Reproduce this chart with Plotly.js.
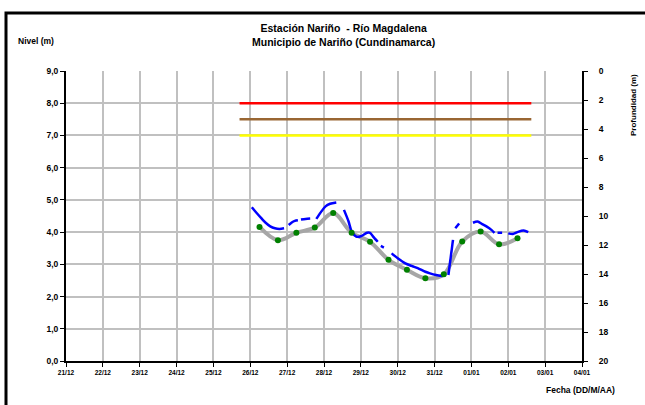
<!DOCTYPE html>
<html>
<head>
<meta charset="utf-8">
<script src="https://cdn.plot.ly/plotly-3.0.1.min.js"></script>
<style>html,body{margin:0;padding:0;background:#fff;}#chart{width:645px;height:405px;}</style>
</head>
<body>
<div id="chart"></div>
<script>
// ---- data ----
const tickDates = ['2011-12-21','2011-12-22','2011-12-23','2011-12-24','2011-12-25','2011-12-26','2011-12-27','2011-12-28','2011-12-29','2011-12-30','2011-12-31','2012-01-01','2012-01-02','2012-01-03','2012-01-04'];
const tickLabels = ['21/12','22/12','23/12','24/12','25/12','26/12','27/12','28/12','29/12','30/12','31/12','01/01','02/01','03/01','04/01'];

// manual readings (green points, gray smoothed line)
const readTimes = ['2011-12-26 06:00','2011-12-26 18:00','2011-12-27 06:00','2011-12-27 18:00','2011-12-28 06:00','2011-12-28 18:00','2011-12-29 06:00','2011-12-29 18:00','2011-12-30 06:00','2011-12-30 18:00','2011-12-31 06:00','2011-12-31 18:00','2012-01-01 06:00','2012-01-01 18:00','2012-01-02 06:00'];
const readLevels = [4.16, 3.75, 3.98, 4.14, 4.59, 3.98, 3.70, 3.14, 2.83, 2.57, 2.69, 3.71, 4.02, 3.62, 3.81];

// automatic sensor (blue, with gaps)
const sensorTimes = [
 '2011-12-26 01:00','2011-12-26 04:00','2011-12-26 07:00','2011-12-26 10:00','2011-12-26 13:00','2011-12-26 16:00','2011-12-26 19:00','2011-12-26 22:00',
 '2011-12-26 23:00',
 '2011-12-27 01:00','2011-12-27 03:00','2011-12-27 05:00','2011-12-27 07:00',
 '2011-12-27 08:00',
 '2011-12-27 09:00','2011-12-27 12:00','2011-12-27 15:00',
 '2011-12-27 17:00',
 '2011-12-27 19:00','2011-12-27 22:00','2011-12-28 01:00','2011-12-28 04:00','2011-12-28 08:00',
 '2011-12-28 10:00',
 '2011-12-28 13:00','2011-12-28 16:00','2011-12-28 18:00','2011-12-28 21:00','2011-12-29 00:00','2011-12-29 04:00','2011-12-29 06:00','2011-12-29 08:00','2011-12-29 11:00',
 '2011-12-29 12:00',
 '2011-12-29 13:00','2011-12-29 15:00',
 '2011-12-29 17:00',
 '2011-12-29 20:00','2011-12-30 00:00','2011-12-30 05:00','2011-12-30 09:00','2011-12-30 13:00','2011-12-30 18:00','2011-12-30 21:00','2011-12-31 01:00','2011-12-31 05:00','2011-12-31 07:00',
 '2011-12-31 08:00',
 '2011-12-31 09:00','2011-12-31 12:00',
 '2011-12-31 13:00',
 '2011-12-31 13:30','2011-12-31 16:00',
 '2011-12-31 18:00',
 '2012-01-01 01:00','2012-01-01 04:00','2012-01-01 07:00','2012-01-01 10:00','2012-01-01 13:00','2012-01-01 15:00',
 '2012-01-01 16:00',
 '2012-01-01 17:00','2012-01-01 20:00',
 '2012-01-01 22:00',
 '2012-01-02 00:00','2012-01-02 03:00','2012-01-02 06:00','2012-01-02 10:00','2012-01-02 13:00'
];
const sensorLevels = [
 4.77,4.60,4.44,4.29,4.18,4.12,4.10,4.12,
 null,
 4.22,4.30,4.35,4.37,
 null,
 4.39,4.41,4.42,
 null,
 4.41,4.62,4.80,4.88,4.92,
 null,
 4.69,4.33,4.02,3.86,3.87,3.98,3.98,3.86,3.70,
 null,
 3.57,3.52,
 null,
 3.34,3.19,3.03,2.95,2.88,2.77,2.72,2.67,2.64,2.66,
 null,
 2.67,3.76,
 null,
 4.12,4.27,
 null,
 4.29,4.33,4.25,4.17,4.07,3.98,
 null,
 3.98,3.98,
 null,
 3.96,3.94,4.00,4.05,4.00
];

// alert thresholds
const alertStart = '2011-12-25 17:00';
const alertEnd = '2012-01-02 15:00';
const redLevel = 8.0, orangeLevel = 7.5, yellowLevel = 7.0;

// ---- chart ----
const F = 'Liberation Sans, Arial, sans-serif';
const traces = [
  {x:[alertStart, alertEnd], y:[redLevel, redLevel], mode:'lines', line:{color:'#ff0000', width:2.5}, hoverinfo:'skip'},
  {x:[alertStart, alertEnd], y:[orangeLevel, orangeLevel], mode:'lines', line:{color:'#996633', width:2.5}, hoverinfo:'skip'},
  {x:[alertStart, alertEnd], y:[yellowLevel, yellowLevel], mode:'lines', line:{color:'#ffff00', width:2.5}, hoverinfo:'skip'},
  {x:readTimes, y:readLevels, mode:'lines', line:{color:'#a6a6a6', width:4, shape:'spline', smoothing:1}, hoverinfo:'skip'},
  {x:sensorTimes, y:sensorLevels, mode:'lines', connectgaps:false, line:{color:'#0000ff', width:2.5, shape:'spline', smoothing:0.8}, hoverinfo:'skip'},
  {x:readTimes, y:readLevels, mode:'markers', marker:{color:'#008000', size:6}, hoverinfo:'skip'},
  {x:[tickDates[0]], y:[null], yaxis:'y2', mode:'lines', hoverinfo:'skip'}
];

const W = 516, H = 290, L = 66, T = 71;
function px(xp){return (xp - L)/W;}
function py(yp){return 1 - (yp - T)/H;}

const layout = {
  width:645, height:405,
  margin:{l:66, r:63, t:71, b:44, pad:0},
  paper_bgcolor:'#ffffff', plot_bgcolor:'#ffffff',
  showlegend:false,
  separators:',.',
  font:{family:F, color:'#000'},
  xaxis:{
    type:'date', range:[tickDates[0], tickDates[tickDates.length-1]],
    tickmode:'array', tickvals:tickDates, ticktext:tickLabels,
    tickfont:{family:F, size:6.5, weight:'bold'},
    showgrid:true, gridcolor:'#c0c0c0', gridwidth:2,
    showline:true, linecolor:'#000', linewidth:2,
    ticks:'outside', ticklen:4, tickcolor:'#000', tickwidth:1,
    zeroline:false, fixedrange:true
  },
  yaxis:{
    range:[0,9], dtick:1, tick0:0, tickformat:'.1f',
    tickfont:{family:F, size:8.5, weight:'bold'},
    showgrid:true, gridcolor:'#c0c0c0', gridwidth:2,
    showline:true, linecolor:'#000', linewidth:2,
    ticks:'outside', ticklen:4, tickcolor:'#000', tickwidth:1,
    zeroline:false, fixedrange:true
  },
  yaxis2:{
    overlaying:'y', side:'right', range:[20,0], dtick:2, tick0:0,
    tickfont:{family:F, size:8.5, weight:'bold'},
    showgrid:false, showline:true, linecolor:'#000', linewidth:2,
    ticks:'outside', ticklen:4, tickcolor:'#000', tickwidth:1,
    ticklabelstandoff:9,
    zeroline:false, fixedrange:true
  },
  shapes:[
    {type:'rect', xref:'paper', yref:'paper', x0:px(6), x1:1.6, y0:-0.6, y1:py(13), line:{color:'#000', width:3}, fillcolor:'rgba(0,0,0,0)'}
  ],
  annotations:[
    {xref:'paper', yref:'paper', x:px(343), y:py(34.5), xanchor:'center', yanchor:'middle', showarrow:false,
     text:'Estación Nariño  - Río Magdalena<br>Municipio de Nariño (Cundinamarca)', align:'center',
     font:{family:F, size:10.5, weight:'bold'}},
    {xref:'paper', yref:'paper', x:px(36), y:py(41), xanchor:'center', yanchor:'middle', showarrow:false,
     text:'Nivel (m)', font:{family:F, size:8.5, weight:'bold'}},
    {xref:'paper', yref:'paper', x:px(580), y:py(390), xanchor:'center', yanchor:'middle', showarrow:false,
     text:'Fecha (DD/M/AA)', font:{family:F, size:8.5, weight:'bold'}},
    {xref:'paper', yref:'paper', x:px(633), y:py(105), xanchor:'center', yanchor:'middle', showarrow:false, textangle:-90,
     text:'Profundidad (m)', font:{family:F, size:8, weight:'bold'}}
  ]
};

Plotly.newPlot('chart', traces, layout, {staticPlot:true, displayModeBar:false});
</script>
</body>
</html>
